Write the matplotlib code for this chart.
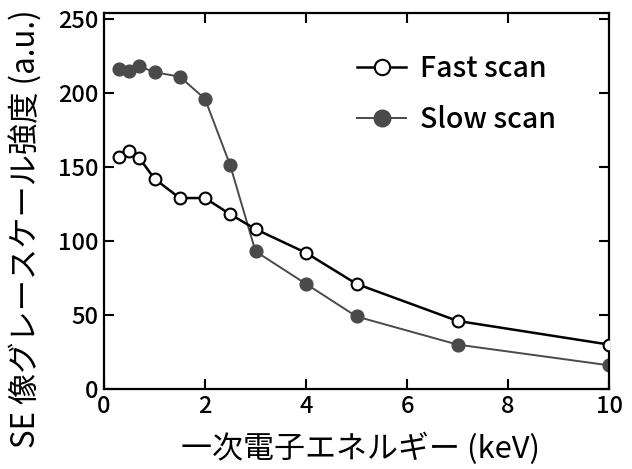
import matplotlib
matplotlib.use("Agg")
import matplotlib.pyplot as plt

plt.rcParams['font.family'] = ['Noto Sans CJK JP', 'DejaVu Sans']
plt.rcParams['font.weight'] = 'medium'

energy_fast = [0.3, 0.5, 0.7, 1.0, 1.5, 2.0, 2.5, 3.0, 4.0, 5.0, 7.0, 10.0]
fast_scan = [157, 161, 156, 142, 129, 129, 118, 108, 92, 71, 46, 30]
energy_slow = [0.3, 0.5, 0.7, 1.0, 1.5, 2.0, 2.5, 3.0, 4.0, 5.0, 7.0, 10.0]
slow_scan = [216, 215, 218, 214, 211, 196, 151, 93, 71, 49, 30, 16]

xticks = [0, 2, 4, 6, 8, 10]
yticks = [0, 50, 100, 150, 200, 250]
xlabel = "一次電子エネルギー (keV)"
ylabel = "SE 像グレースケール強度 (a.u.)"

fig = plt.figure(figsize=(6.32, 4.69), dpi=100)
ax = fig.add_axes([104/632, 1-389/469, (609-104)/632, (389-13)/469])

ax.plot(energy_fast, fast_scan, '-o', color='black', lw=1.8,
        mfc='white', mec='black', mew=1.5, ms=8.5, label='Fast scan', zorder=3)
ax.plot(energy_slow, slow_scan, '-o', color='#4a4a4a', lw=1.4,
        mfc='#4a4a4a', mec='#4a4a4a', ms=9.2, label='Slow scan', zorder=2)

ax.set_xlim(0, 10)
ax.set_ylim(0, 254)
ax.set_xticks(xticks)
ax.set_yticks(yticks)
ax.tick_params(direction='in', length=7, width=1.5, top=True, right=True,
               labelsize=17, pad=4)
for s in ax.spines.values():
    s.set_linewidth(1.6)

ax.set_xlabel(xlabel, fontsize=22.3)
ax.set_ylabel(ylabel, fontsize=22.5)
ax.xaxis.set_label_coords(0.507, -0.115)
ax.yaxis.set_label_coords(-0.121, 0.426)

leg = ax.legend(loc='upper right', bbox_to_anchor=(0.946, 0.96), frameon=False,
                fontsize=20.5, handlelength=1.69, handletextpad=0.51,
                labelspacing=0.78, markerscale=1.3)

fig.savefig("out.png", dpi=100)
